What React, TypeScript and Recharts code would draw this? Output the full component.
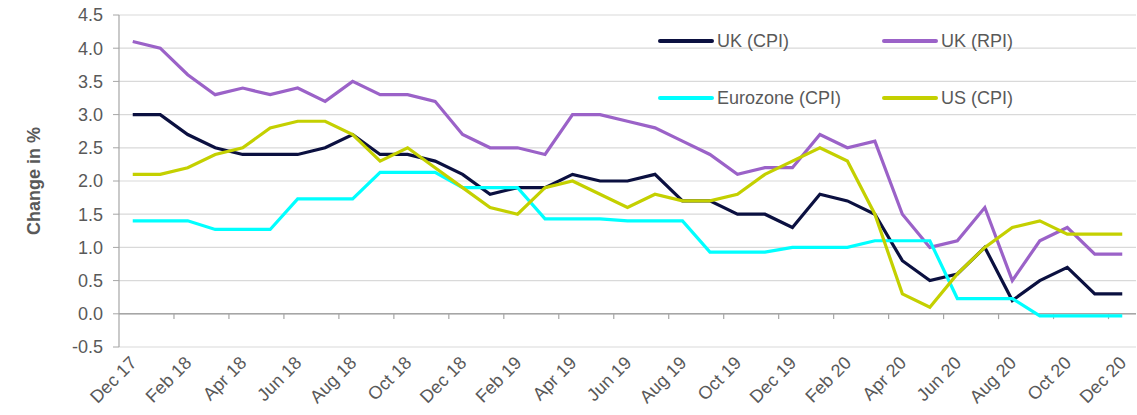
import React from 'react';
import { LineChart, Line, XAxis, YAxis, CartesianGrid, ReferenceLine, Legend } from 'recharts';

const months = [
  'Dec 17', 'Jan 18', 'Feb 18', 'Mar 18', 'Apr 18', 'May 18', 'Jun 18', 'Jul 18', 'Aug 18', 'Sep 18', 'Oct 18', 'Nov 18',
  'Dec 18', 'Jan 19', 'Feb 19', 'Mar 19', 'Apr 19', 'May 19', 'Jun 19', 'Jul 19', 'Aug 19', 'Sep 19', 'Oct 19', 'Nov 19',
  'Dec 19', 'Jan 20', 'Feb 20', 'Mar 20', 'Apr 20', 'May 20', 'Jun 20', 'Jul 20', 'Aug 20', 'Sep 20', 'Oct 20', 'Nov 20',
  'Dec 20',
];

const ukCpi = [3.0, 3.0, 2.7, 2.5, 2.4, 2.4, 2.4, 2.5, 2.7, 2.4, 2.4, 2.3, 2.1, 1.8, 1.9, 1.9, 2.1, 2.0, 2.0, 2.1, 1.7, 1.7, 1.5, 1.5, 1.3, 1.8, 1.7, 1.5, 0.8, 0.5, 0.6, 1.0, 0.2, 0.5, 0.7, 0.3, 0.3];
const ukRpi = [4.1, 4.0, 3.6, 3.3, 3.4, 3.3, 3.4, 3.2, 3.5, 3.3, 3.3, 3.2, 2.7, 2.5, 2.5, 2.4, 3.0, 3.0, 2.9, 2.8, 2.6, 2.4, 2.1, 2.2, 2.2, 2.7, 2.5, 2.6, 1.5, 1.0, 1.1, 1.6, 0.5, 1.1, 1.3, 0.9, 0.9];
const euroCpi = [1.4, 1.4, 1.4, 1.27, 1.27, 1.27, 1.73, 1.73, 1.73, 2.13, 2.13, 2.13, 1.9, 1.9, 1.9, 1.43, 1.43, 1.43, 1.4, 1.4, 1.4, 0.93, 0.93, 0.93, 1.0, 1.0, 1.0, 1.1, 1.1, 1.1, 0.23, 0.23, 0.23, -0.03, -0.03, -0.03, -0.03];
const usCpi = [2.1, 2.1, 2.2, 2.4, 2.5, 2.8, 2.9, 2.9, 2.7, 2.3, 2.5, 2.2, 1.9, 1.6, 1.5, 1.9, 2.0, 1.8, 1.6, 1.8, 1.7, 1.7, 1.8, 2.1, 2.3, 2.5, 2.3, 1.5, 0.3, 0.1, 0.6, 1.0, 1.3, 1.4, 1.2, 1.2, 1.2];

const yTicks = [-0.5, 0, 0.5, 1.0, 1.5, 2.0, 2.5, 3.0, 3.5, 4.0, 4.5];
const xTickIdx = months.map((_, i) => i).filter((i) => i % 2 === 0);
const xMarkIdx = months.map((_, i) => i + 1.5).filter((v, i) => i % 2 === 0 && v < months.length - 1);

const series = [
  { key: 'ukCpi', name: 'UK (CPI)', color: '#0B1040' },
  { key: 'ukRpi', name: 'UK (RPI)', color: '#9B62C8' },
  { key: 'euroCpi', name: 'Eurozone (CPI)', color: '#00FFFF' },
  { key: 'usCpi', name: 'US (CPI)', color: '#C4D000' },
];

const data = months.map((m, i) => ({
  i,
  month: m,
  ukCpi: ukCpi[i],
  ukRpi: ukRpi[i],
  euroCpi: euroCpi[i],
  usCpi: usCpi[i],
}));

const FONT = '"Liberation Sans", Arial, sans-serif';
const TEXT = '#595959';

const XTick = (props: any) => {
  const { x, y, payload } = props;
  const tx = x + 5;
  const ty = y + 9;
  return (
    <text
      x={tx}
      y={ty}
      transform={`rotate(-45 ${tx} ${ty})`}
      textAnchor="end"
      fontSize={18}
      fontFamily={FONT}
      fill={TEXT}
    >
      {months[payload.value]}
    </text>
  );
};

const LegendContent = () => {
  const pos = [
    { left: 658, top: 41 },
    { left: 882, top: 41 },
    { left: 658, top: 98 },
    { left: 882, top: 98 },
  ];
  return (
    <div style={{ position: 'relative', width: 1137, height: 415 }}>
      {series.map((s, k) => (
        <div
          key={s.key}
          style={{
            position: 'absolute',
            left: pos[k].left,
            top: pos[k].top - 11,
            height: 22,
            display: 'flex',
            alignItems: 'center',
            whiteSpace: 'nowrap',
          }}
        >
          <svg width={56} height={6} style={{ display: 'block' }}>
            <line x1={2} y1={3} x2={54} y2={3} stroke={s.color} strokeWidth={4} strokeLinecap="round" />
          </svg>
          <span style={{ fontFamily: FONT, fontSize: 18, color: TEXT, marginLeft: 3, lineHeight: '22px' }}>{s.name}</span>
        </div>
      ))}
    </div>
  );
};

export default function App() {
  return (
    <div style={{ position: 'absolute', left: 0, top: 0, width: 1137, height: 415, background: '#fff' }}>
      <LineChart
        width={1137}
        height={415}
        data={data}
        margin={{ top: 15, right: 1, left: 0, bottom: 0 }}
      >
        <CartesianGrid vertical={false} stroke="#D9D9D9" strokeWidth={1.2} />
        <XAxis
          dataKey="i"
          type="number"
          domain={[-0.5, months.length - 0.5]}
          ticks={xTickIdx}
          interval={0}
          axisLine={false}
          tickLine={false}
          tick={<XTick />}
          height={68}
          allowDecimals={true}
        />
        <YAxis
          domain={[-0.5, 4.5]}
          ticks={yTicks}
          interval={0}
          width={119}
          tickFormatter={(v: number) => v.toFixed(1)}
          tick={{ fontSize: 18, fill: TEXT, fontFamily: FONT }}
          tickSize={6}
          tickMargin={10}
          axisLine={{ stroke: '#A6A6A6', strokeWidth: 1.2 }}
          tickLine={{ stroke: '#A6A6A6' }}
          label={(p: any) => {
            const vb = p.viewBox || { x: 0, y: 15, width: 119, height: 332 };
            const cx = 40;
            const cy = vb.y + vb.height / 2;
            return (
              <text
                x={cx}
                y={cy}
                transform={`rotate(-90 ${cx} ${cy})`}
                textAnchor="middle"
                fontSize={18}
                fontWeight="bold"
                fontFamily={FONT}
                fill={TEXT}
              >
                Change in %
              </text>
            );
          }}
        />
        <ReferenceLine y={0} stroke="#A6A6A6" strokeWidth={1.5} />
        {xMarkIdx.map((v) => (
          <ReferenceLine
            key={v}
            segment={[{ x: v, y: 0 }, { x: v, y: -0.08 }]}
            stroke="#A6A6A6"
            strokeWidth={1.2}
          />
        ))}
        {series.map((s) => (
          <Line
            key={s.key}
            dataKey={s.key}
            name={s.name}
            type="linear"
            stroke={s.color}
            strokeWidth={3.2}
            dot={false}
            activeDot={false}
            isAnimationActive={false}
          />
        ))}
        <Legend
          layout="horizontal"
          verticalAlign="middle"
          align="center"
          wrapperStyle={{ left: 0, top: 0, width: 1137, height: 415, pointerEvents: 'none' }}
          content={<LegendContent />}
        />
      </LineChart>
    </div>
  );
}
